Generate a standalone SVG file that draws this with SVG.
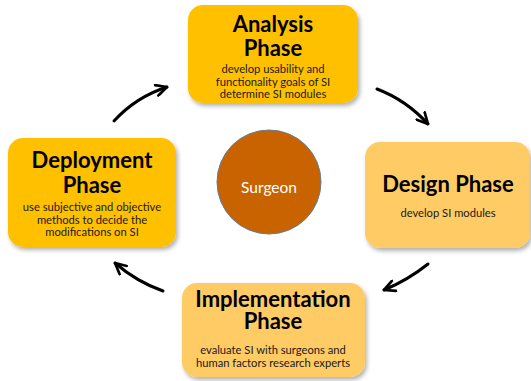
<svg xmlns="http://www.w3.org/2000/svg" width="531" height="381" viewBox="0 0 531 381">
<defs>
<style>
.box{stroke:none;filter:url(#sh)}
.dark{fill:#FFC000}
.light{fill:#FFCB65}
.title{font-family:Lato,"Liberation Sans",sans-serif;font-weight:bold;font-size:22px;fill:#000;text-anchor:middle}
.body{font-family:Lato,"Liberation Sans",sans-serif;font-size:11.2px;fill:#1a1a1a;text-anchor:middle}
.arrow{fill:none;stroke:#000;stroke-width:3;stroke-linecap:round;marker-end:url(#ah)}
</style>
<filter id="sh" x="-10%" y="-10%" width="130%" height="130%">
<feDropShadow dx="2" dy="3" stdDeviation="2" flood-color="#000" flood-opacity="0.3"/>
</filter>
<marker id="ah" viewBox="0 0 10 10" refX="9" refY="5" markerWidth="4.5" markerHeight="4.5" orient="auto" markerUnits="strokeWidth">
<polyline points="1,1 9,5 1,9" fill="none" stroke="#000" stroke-width="2" stroke-linecap="round" stroke-linejoin="round"/>
</marker>
</defs>
<g id="analysis">
<rect class="box dark" x="188" y="5" width="170" height="98" rx="15"/>
<text class="title" x="273" y="32">Analysis</text>
<text class="title" x="273" y="56">Phase</text>
<text class="body" x="273" y="73">develop usability and</text>
<text class="body" x="273" y="85.5">functionality goals of SI</text>
<text class="body" x="273" y="98">determine SI modules</text>
</g>
<g id="design">
<rect class="box light" x="365" y="142" width="165" height="106" rx="15"/>
<text class="title" x="448" y="192">Design Phase</text>
<text class="body" x="448" y="217">develop SI modules</text>
</g>
<g id="implementation">
<rect class="box light" x="182" y="283" width="183" height="94" rx="15"/>
<text class="title" x="273" y="307">Implementation</text>
<text class="title" x="273" y="329">Phase</text>
<text class="body" x="273" y="354">evaluate SI with surgeons and</text>
<text class="body" x="273" y="366.5">human factors research experts</text>
</g>
<g id="deployment">
<rect class="box dark" x="8" y="138" width="168" height="109" rx="15"/>
<text class="title" x="92" y="168">Deployment</text>
<text class="title" x="92" y="193">Phase</text>
<text class="body" x="92" y="211">use subjective and objective</text>
<text class="body" x="92" y="223.5">methods to decide the</text>
<text class="body" x="92" y="236">modifications on SI</text>
</g>
<g id="surgeon">
<circle cx="269" cy="182" r="52" fill="#C96300" stroke="#5E7E9E" stroke-width="1"/>
<text x="269" y="193" font-family="Lato,'Liberation Sans',sans-serif" font-size="15.5" fill="#fff" text-anchor="middle">Surgeon</text>
</g>
<g id="connectors">
<path class="arrow" d="M114,121 Q136,97 167,87"/>
<path class="arrow" d="M377,89 Q406,100 428,124"/>
<path class="arrow" d="M428,264 Q408,280 384,290"/>
<path class="arrow" d="M163,291 Q137,282 115,263"/>
</g>
</svg>
